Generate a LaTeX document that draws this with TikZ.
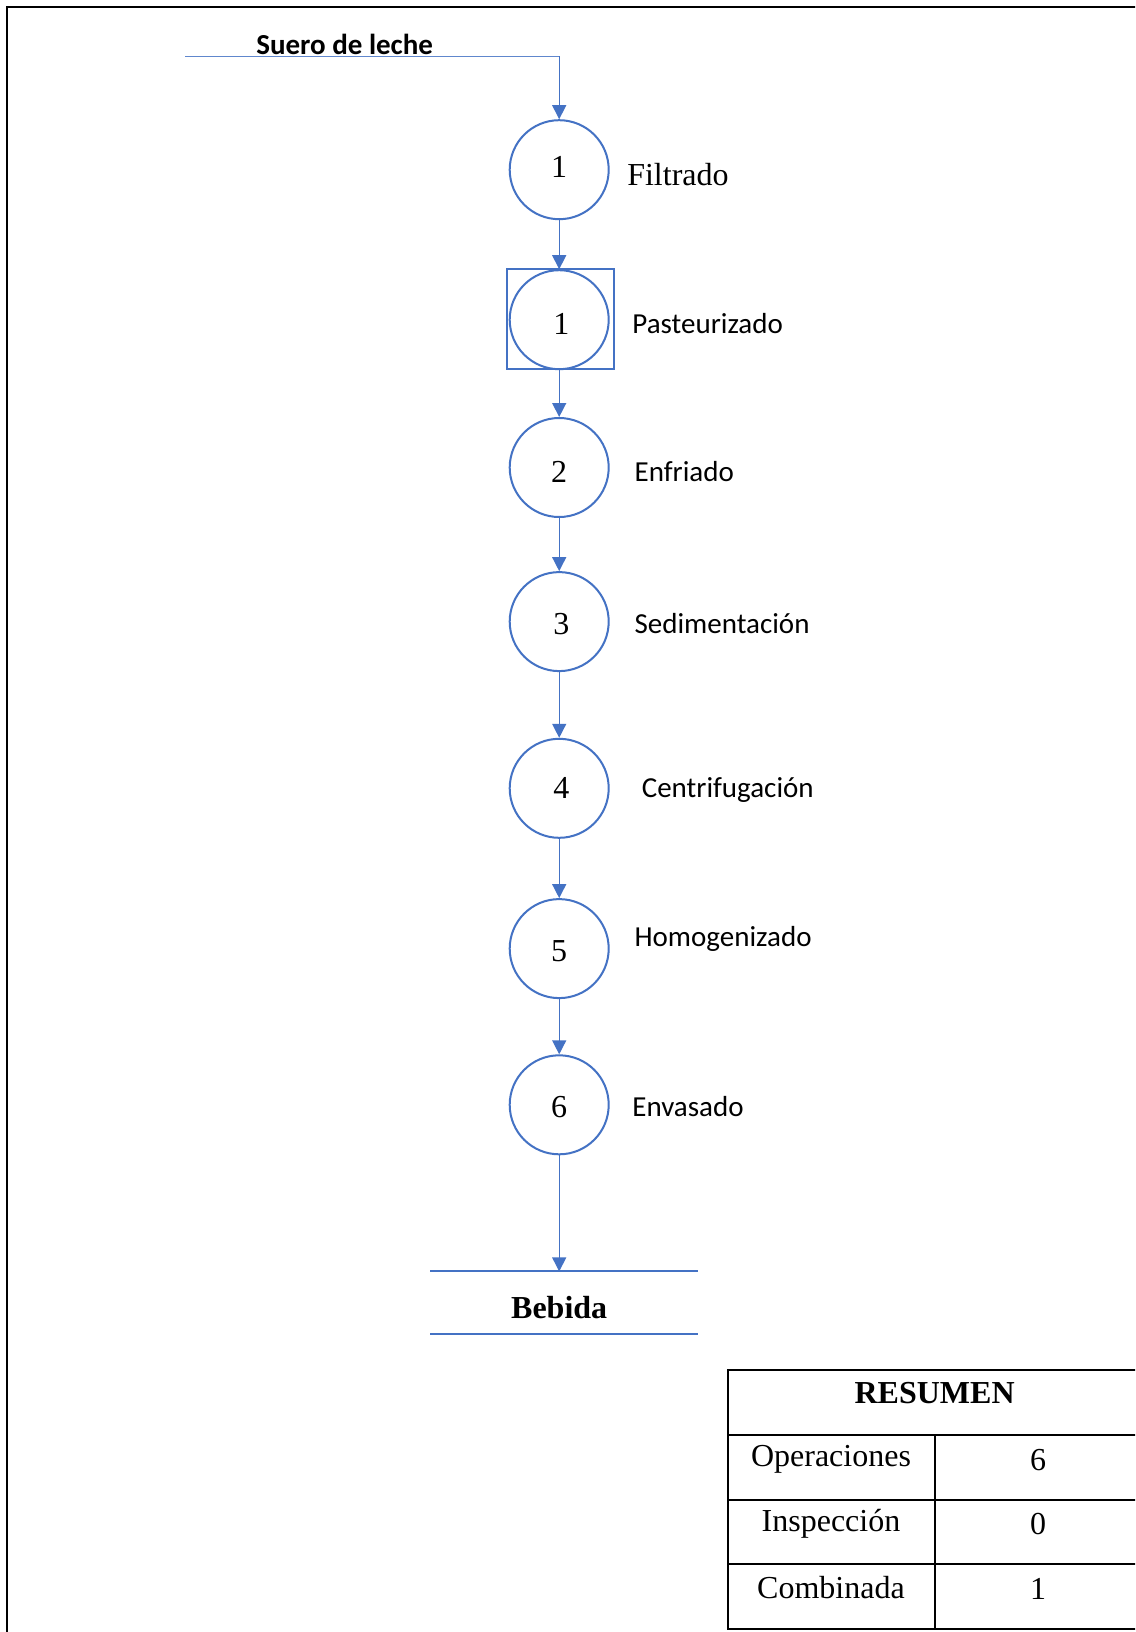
\documentclass[tikz,border=0pt]{standalone}
\usepackage{fontspec}
\setmainfont{Liberation Serif}
\newfontfamily\calibri{Carlito}
\usetikzlibrary{arrows.meta}
\definecolor{flowblue}{HTML}{4472C4}
\tikzset{
  opcircle/.style={circle, draw=flowblue, line width=1pt, minimum size=49.5pt, inner sep=0pt},
  opnum/.style={inner sep=0pt, font=\fontsize{16}{16}\selectfont},
  flowarrow/.style={draw=flowblue, line width=0.7pt, -{Triangle[length=7pt,width=7pt]}},
  steplabel/.style={anchor=west, inner sep=0pt, font=\calibri\fontsize{14.5}{14.5}\selectfont},
  serifbig/.style={inner sep=0pt, font=\fontsize{16}{16}\selectfont},
  tabletext/.style={inner sep=0pt, font=\fontsize{16}{16}\selectfont},
}
\begin{document}
\begin{tikzpicture}[x=0.5pt,y=-0.5pt]
\clip (0,0) rectangle (1135,1632);
\fill[white] (0,0) rectangle (1135,1632);

% outer frame
\draw[line width=1pt] (7.3,7.3) rectangle (1150,1650);

% input line
\coordinate (inlet) at (185.4,56.2);
\coordinate (inbend) at (559.2,56.2);
\node[inner sep=0pt, font=\calibri\bfseries\fontsize{14.5}{14.5}\selectfont] (suero) at (344.7,44) {Suero de leche};

% operations
\node[opcircle] (op1) at (559.2,169.7) {};
\node[opcircle] (op2) at (559.2,319.7) {};
\node[draw=flowblue, line width=1pt, minimum width=53.6pt, minimum height=50pt, inner sep=0pt] (combo) at (560.75,318.65) {};
\node[opcircle] (op3) at (559.2,467.5) {};
\node[opcircle] (op4) at (559.2,621.6) {};
\node[opcircle] (op5) at (559.2,788.3) {};
\node[opcircle] (op6) at (559.2,948.6) {};
\node[opcircle] (op7) at (559.2,1104.8) {};

% operation numbers
\node[opnum] (n1) at (559.2,166.6) {1};
\node[opnum] (n2) at (561.3,323.9) {1};
\node[opnum] (n3) at (559.2,471.7) {2};
\node[opnum] (n4) at (561.3,623.7) {3};
\node[opnum] (n5) at (561.3,788.3) {4};
\node[opnum] (n6) at (559.2,950.7) {5};
\node[opnum] (n7) at (559.2,1106.9) {6};

% step names
\node[serifbig, anchor=west] (l1) at (626.9,175) {Filtrado};
\node[steplabel] (l2) at (632,323.9) {Pasteurizado};
\node[steplabel] (l3) at (634.2,471.7) {Enfriado};
\node[steplabel] (l4) at (634.2,623.7) {Sedimentación};
\node[steplabel] (l5) at (641.4,790.4) {Centrifugación};
\node[steplabel] (l6) at (634.2,939.3) {Homogenizado};
\node[steplabel] (l7) at (632,1106.9) {Envasado};

% connectors
\draw[draw=flowblue!85, line width=0.5pt] (inlet) -- (inbend);
\draw[flowarrow] (inbend) -- (op1.north);
\draw[flowarrow] (op1.south) -- (op2.north);
\draw[flowarrow] (op2.south) -- (op3.north);
\draw[flowarrow] (op3.south) -- (op4.north);
\draw[flowarrow] (op4.south) -- (op5.north);
\draw[flowarrow] (op5.south) -- (op6.north);
\draw[flowarrow] (op6.south) -- (op7.north);

% product storage
\coordinate (storeL) at (430.1,1271.4);
\coordinate (storeR) at (697.7,1271.4);
\coordinate (storeTop) at (559.2,1271.4);
\draw[flowblue, line width=1pt] (storeL) -- (storeR);
\draw[flowblue, line width=1pt] (430.1,1333.9) -- (697.7,1333.9);
\node[serifbig, font=\bfseries\fontsize{16}{16}\selectfont] (bebida) at (559.2,1307.9) {Bebida};
\draw[flowarrow] (op7.south) -- (storeTop);

% summary table
\draw[line width=1pt] (727.9,1370.4) rectangle (1141.3,1628.6);
\draw[line width=1pt] (727.9,1434.9) -- (1141.3,1434.9);
\draw[line width=1pt] (727.9,1499.5) -- (1141.3,1499.5);
\draw[line width=1pt] (727.9,1564) -- (1141.3,1564);
\draw[line width=1pt] (935.1,1434.9) -- (935.1,1628.6);
\node[tabletext, font=\bfseries\fontsize{16}{16}\selectfont] (t0) at (934.6,1393.3) {RESUMEN};
\node[tabletext] (t1) at (831,1458.9) {Operaciones};
\node[tabletext] (v1) at (1038.2,1460) {6};
\node[tabletext] (t2) at (831,1523.4) {Inspección};
\node[tabletext] (v2) at (1038.2,1524) {0};
\node[tabletext] (t3) at (831,1588) {Combinada};
\node[tabletext] (v3) at (1038.2,1588.5) {1};
\end{tikzpicture}
\end{document}
